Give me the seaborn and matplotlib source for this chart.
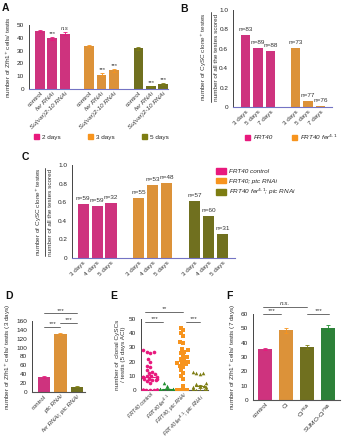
import warnings
import numpy as np
import pandas as pd
import matplotlib
matplotlib.use("Agg")
import matplotlib.pyplot as plt
from matplotlib.patches import Patch
from matplotlib.lines import Line2D
import seaborn as sns

warnings.filterwarnings("ignore")

# ---------------------------------------------------------------------------
# data
# ---------------------------------------------------------------------------
PINK, ORANGE, OLIVE, GREEN = "#E8197D", "#F7941E", "#7D7D12", "#1F8F2F"

a_groups = ["2 days", "3 days", "5 days"]
a_labels = ["control", "fer RNAi", "Su(var)2-10 RNAi"] * 3
a_vals = [45, 39.5, 43, 33.5, 11, 14.5, 32, 2, 4]
a_err = [0.8, 1.3, 1.2, 0.7, 1.2, 1.2, 1.2, 0.3, 0.6]
a_sig = ["", "***", "n.s", "", "***", "***", "", "***", "***"]

b_groups = ["FRT40", "FRT40 fer$^{4.1}$"]
b_labels = ["3 days", "5 days", "7 days"] * 2
b_vals = [0.74, 0.61, 0.58, 0.61, 0.06, 0.015]
b_n = [83, 89, 88, 73, 77, 76]

c_groups = ["FRT40 control", "FRT40; ptc RNAi", "FRT40 fer$^{4.1}$; ptc RNAi"]
c_labels = ["3 days", "4 days", "5 days"] * 3
c_vals = [0.58, 0.56, 0.59, 0.65, 0.79, 0.81, 0.61, 0.45, 0.26]
c_n = [59, 59, 32, 55, 53, 48, 57, 60, 31]

d_labels = ["control", "ptc RNAi", "fer RNAi; ptc RNAi"]
d_vals = [34, 131, 12]
d_err = [1.5, 3.0, 1.2]

e_labels = ["FRT40 control", "FRT40 fer$^{4.1}$", "FRT40; ptc RNAi",
            "FRT40 fer$^{4.1}$; ptc RNAi"]
e_pink = [0] * 12 + [28, 27, 27, 26, 22, 20, 17, 16, 14, 13, 12, 11, 10, 10,
                     9, 9, 9, 8, 8, 8, 7, 7, 6, 5]
e_green = [0] * 8 + [5, 3, 1, 1, 1, 0.5]
e_orange = [0] * 4 + [44, 42, 40, 38, 34, 33, 29, 28, 27, 26, 24, 23, 22, 21,
                      20, 19, 19, 18, 17, 16, 14, 12, 10, 8, 3]
e_olive = [0] * 15 + [13, 12, 12, 11, 5, 4, 3, 3, 2, 2, 1, 1, 1]

f_labels = ["control", "Ci", "Ci$^{PKA}$", "SUMO-Ci$^{PKA}$"]
f_vals = [35.5, 48.5, 37, 50]
f_err = [0.8, 1.6, 1.2, 2.0]

# ---------------------------------------------------------------------------
# style / layout helpers
# ---------------------------------------------------------------------------
sns.set_style("white")
plt.rcParams["font.family"] = ["Liberation Sans", "DejaVu Sans"]
plt.rcParams["mathtext.fontset"] = "dejavusans"
FS = 4.6
TXT = "#333333"
W, H = 350, 440
fig = plt.figure(figsize=(3.5, 4.4), dpi=100)


def add_ax(l, t, r, b):
    return fig.add_axes([l / W, 1 - b / H, (r - l) / W, (b - t) / H])


def style_ax(ax, yticks, bottom_color="#7474c4"):
    sns.despine(ax=ax)
    ax.spines["left"].set_color("#444444")
    ax.spines["left"].set_linewidth(0.7)
    ax.spines["bottom"].set_color(bottom_color)
    ax.spines["bottom"].set_linewidth(0.8)
    ax.set_yticks(yticks)
    ax.tick_params(axis="y", length=2, width=0.5, pad=1.5, labelsize=FS,
                   colors="#444444", labelcolor="#222222")
    ax.tick_params(axis="x", length=0, pad=1.5, labelsize=FS, labelcolor=TXT)
    ax.grid(False)
    ax.set_xlabel("")
    ax.set_ylabel("")


def bars(ax, pos, vals, colors, width=0.8):
    keys = [str(p) for p in pos]
    df = pd.DataFrame({"x": pos, "y": vals, "c": keys})
    sns.barplot(data=df, x="x", y="y", hue="c", hue_order=keys,
                palette=colors, native_scale=True, dodge=False, width=width,
                legend=False, errorbar=None, ax=ax, linewidth=0)


def err(ax, pos, vals, errs, colors):
    for p, v, e, c in zip(pos, vals, errs, colors):
        ax.errorbar([p], [v], yerr=[e], fmt="none", ecolor=c,
                    elinewidth=0.6, capsize=1.5, capthick=0.6, zorder=5)


def rot_labels(ax, pos, labels, italic=None, fs=FS):
    ax.set_xticks(pos)
    ax.set_xticklabels(labels, rotation=45, ha="right",
                       rotation_mode="anchor", fontsize=fs)
    if italic:
        for t, it in zip(ax.get_xticklabels(), italic):
            if it:
                t.set_style("italic")


def sig(ax, x0, x1, y, label, dy):
    ax.plot([x0, x1], [y, y], color="#555555", lw=0.6, clip_on=False)
    ax.text((x0 + x1) / 2, y + dy, label, ha="center", va="bottom",
            fontsize=FS, style="italic", color=TXT, clip_on=False)


def letter(x, y, s):
    fig.text(x / W, 1 - y / H, s, fontsize=7.5, fontweight="bold",
             ha="left", va="center", color="#111111")


# ---------------------------------------------------------------------------
# A
# ---------------------------------------------------------------------------
ax = add_ax(29, 25, 168, 89)
a_pos = [0, 1, 2, 4, 5, 6, 8, 9, 10]
a_cols = [PINK] * 3 + [ORANGE] * 3 + [OLIVE] * 3
bars(ax, a_pos, a_vals, a_cols)
err(ax, a_pos, a_vals, a_err, a_cols)
for p, v, e, s in zip(a_pos, a_vals, a_err, a_sig):
    if s:
        ax.text(p, v + e + 0.8, s, ha="center", va="bottom", fontsize=FS - 0.4,
                color=TXT, style="italic")
ax.set_xlim(-0.9, 10.4)
ax.set_ylim(0, 50)
style_ax(ax, range(0, 51, 10))
rot_labels(ax, a_pos, a_labels, [0, 1, 1] * 3)
ax.set_ylabel("number of Zfh1$^{+}$ cells/ testis", fontsize=FS, labelpad=3,
              color=TXT)
ax.legend(handles=[Patch(color=c, label=g) for c, g in
                   zip([PINK, ORANGE, OLIVE], a_groups)],
          ncol=3, loc="center left", bbox_to_anchor=(34 / W, 1 - 137 / H),
          bbox_transform=fig.transFigure, frameon=False, fontsize=FS,
          handlelength=0.8, handleheight=0.8, handletextpad=0.5,
          columnspacing=4.2, borderpad=0, borderaxespad=0)
letter(2, 8, "A")

# ---------------------------------------------------------------------------
# B
# ---------------------------------------------------------------------------
ax = add_ax(233, 10, 332, 107)
b_pos = [0, 1, 2, 4, 5, 6]
b_cols = [PINK] * 3 + [ORANGE] * 3
bars(ax, b_pos, b_vals, b_cols, width=0.75)
for p, v, n in zip(b_pos, b_vals, b_n):
    ax.text(p, v + 0.03, f"n={n}", ha="center", va="bottom", fontsize=FS,
            color=TXT)
ax.set_xlim(-1.0, 6.9)
ax.set_ylim(0, 1.0)
style_ax(ax, np.arange(0, 1.01, 0.2))
ax.set_yticklabels(["0", "0.2", "0.4", "0.6", "0.8", "1.0"])
rot_labels(ax, b_pos, b_labels)
fig.text(204 / W, 1 - 57 / H, "number of CySC clone$^{+}$ testes",
         rotation=90, ha="center", va="center", fontsize=FS, color=TXT)
fig.add_artist(Line2D([211 / W, 211 / W], [1 - 12 / H, 1 - 102 / H],
                      color="#333333", lw=0.6))
fig.text(217 / W, 1 - 57 / H, "number of all the testes scored",
         rotation=90, ha="center", va="center", fontsize=FS, color=TXT)
ax.legend(handles=[Patch(color=c, label=g) for c, g in
                   zip([PINK, ORANGE], b_groups)],
          ncol=2, loc="center left", bbox_to_anchor=(245 / W, 1 - 137 / H),
          bbox_transform=fig.transFigure, frameon=False,
          handlelength=0.8, handleheight=0.8, handletextpad=0.5,
          columnspacing=3.0, borderpad=0, borderaxespad=0,
          prop={"style": "italic", "size": FS})
letter(180, 9, "B")

# ---------------------------------------------------------------------------
# C
# ---------------------------------------------------------------------------
ax = add_ax(72, 165, 235, 258)
c_pos = [0, 1, 2, 4, 5, 6, 8, 9, 10]
c_cols = [PINK] * 3 + [ORANGE] * 3 + [OLIVE] * 3
bars(ax, c_pos, c_vals, c_cols)
for p, v, n in zip(c_pos, c_vals, c_n):
    ax.text(p, v + 0.03, f"n={n}", ha="center", va="bottom", fontsize=FS,
            color=TXT)
ax.set_xlim(-0.8, 10.9)
ax.set_ylim(0, 1.0)
style_ax(ax, np.arange(0, 1.01, 0.2))
ax.set_yticklabels(["0", "0.2", "0.4", "0.6", "0.8", "1.0"])
rot_labels(ax, c_pos, c_labels)
fig.text(39 / W, 1 - 212 / H, "number of CySC clone$^{+}$ testes",
         rotation=90, ha="center", va="center", fontsize=FS, color=TXT)
fig.add_artist(Line2D([44.5 / W, 44.5 / W], [1 - 168 / H, 1 - 256 / H],
                      color="#333333", lw=0.6))
fig.text(51 / W, 1 - 212 / H, "number of all the testes scored",
         rotation=90, ha="center", va="center", fontsize=FS, color=TXT)
ax.legend(handles=[Patch(color=c, label=g) for c, g in
                   zip([PINK, ORANGE, OLIVE], c_groups)],
          loc="upper left", bbox_to_anchor=(216 / W, 1 - 168 / H),
          bbox_transform=fig.transFigure, frameon=False,
          handlelength=1.5, handleheight=1.0, handletextpad=0.6,
          labelspacing=0.55, borderpad=0, borderaxespad=0,
          prop={"style": "italic", "size": FS})
letter(22, 157, "C")

# ---------------------------------------------------------------------------
# D
# ---------------------------------------------------------------------------
ax = add_ax(32, 321, 85, 392)
d_pos = [0, 1, 2]
d_cols = [PINK, ORANGE, OLIVE]
bars(ax, d_pos, d_vals, d_cols, width=0.75)
err(ax, d_pos, d_vals, d_err, d_cols)
ax.set_xlim(-0.73, 2.5)
ax.set_ylim(0, 160)
style_ax(ax, range(0, 161, 20), bottom_color="#555555")
rot_labels(ax, d_pos, d_labels, [0, 1, 1], fs=4.3)
ax.set_ylabel("number of Zfh1$^{+}$ cells/ testis (3 days)", fontsize=FS,
              labelpad=2, color=TXT)
sig(ax, 0, 2, 177, "***", 2)
sig(ax, 0, 1, 146, "***", 2)
sig(ax, 1, 2, 156, "***", 2)
letter(5, 296, "D")

# ---------------------------------------------------------------------------
# E
# ---------------------------------------------------------------------------
ax = add_ax(141, 319, 208, 390)
e_sets = [e_pink, e_green, e_orange, e_olive]
e_cols = [PINK, GREEN, ORANGE, OLIVE]
e_marks = ["o", "^", "s", "^"]
e_df = pd.DataFrame({
    "grp": np.repeat(e_labels, [len(s) for s in e_sets]),
    "val": np.concatenate(e_sets),
})
for lab, col, mk in zip(e_labels, e_cols, e_marks):
    sns.swarmplot(data=e_df[e_df["grp"] == lab], x="grp", y="val",
                  order=e_labels, color=col, marker=mk, size=2.6,
                  linewidth=0, ax=ax)
for i, (s, col) in enumerate(zip(e_sets, e_cols)):
    m = np.mean(s)
    se = np.std(s, ddof=1) / np.sqrt(len(s))
    ax.plot([i - 0.3, i + 0.3], [m, m], color=col, lw=0.8, zorder=5)
    err(ax, [i], [m], [se], [col])
ax.set_xlim(-0.55, 3.5)
ax.set_ylim(0, 50)
style_ax(ax, range(0, 51, 10), bottom_color="#555555")
rot_labels(ax, range(4), e_labels, [1, 1, 1, 1], fs=3.8)
ax.set_ylabel("number of  clonal CySCs\n/ testis (5 days ACI)", fontsize=FS,
              labelpad=2, color=TXT, linespacing=1.3)
sig(ax, -0.3, 2.0, 55, "**", 0.6)
sig(ax, -0.3, 0.8, 48, "***", 0.6)
sig(ax, 2.2, 3.0, 48, "***", 0.6)
letter(110, 296, "E")

# ---------------------------------------------------------------------------
# F
# ---------------------------------------------------------------------------
ax = add_ax(253, 314, 340, 400)
f_pos = [0, 1, 2, 3]
f_cols = [PINK, ORANGE, OLIVE, GREEN]
bars(ax, f_pos, f_vals, f_cols, width=0.68)
err(ax, f_pos, f_vals, f_err, f_cols)
ax.set_xlim(-0.57, 3.57)
ax.set_ylim(0, 60)
style_ax(ax, range(0, 61, 10), bottom_color="#555555")
rot_labels(ax, f_pos, f_labels)
ax.set_ylabel("number of Zfh1$^{+}$ cells/ testis (7 days)", fontsize=FS,
              labelpad=2, color=TXT)
sig(ax, -0.1, 2.0, 65, "n.s.", 0.8)
sig(ax, -0.1, 0.75, 60, "***", 0.8)
sig(ax, 2.0, 3.05, 60, "***", 0.8)
letter(226, 296, "F")

fig.savefig("out.png", dpi=100, facecolor="white")
